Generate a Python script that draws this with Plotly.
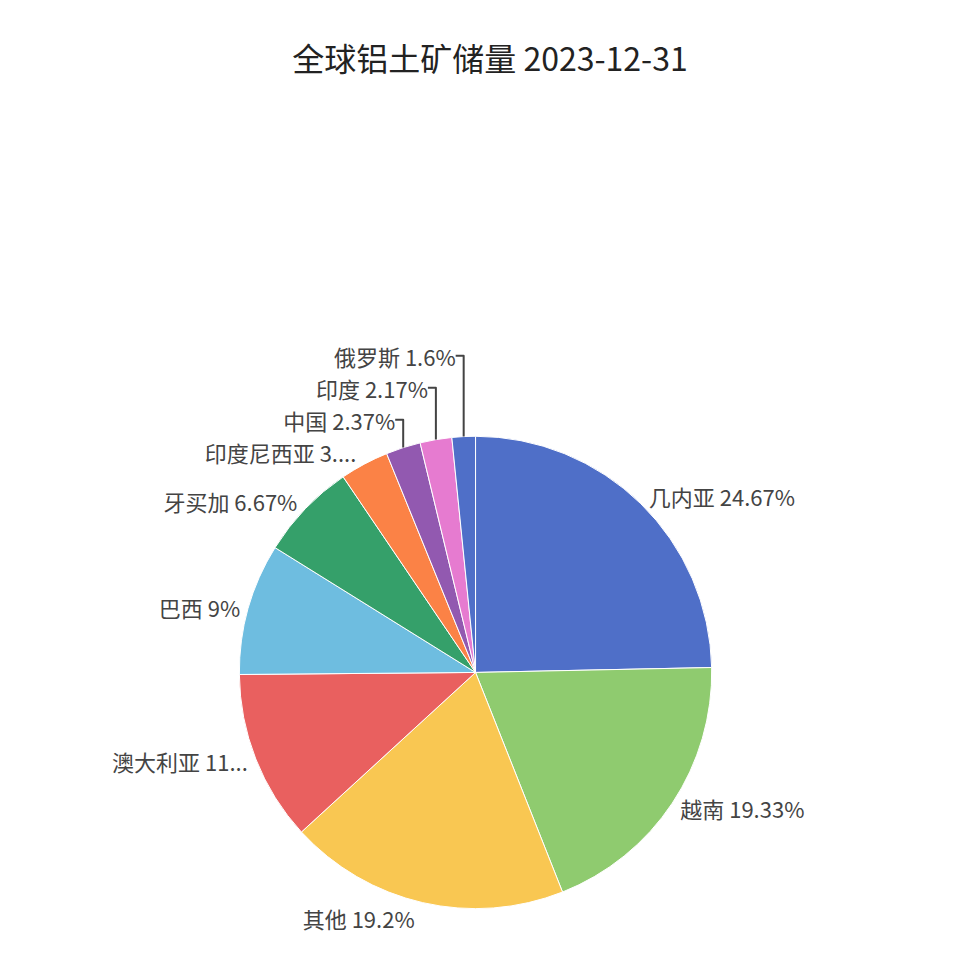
import plotly.graph_objects as go

# 全球铝土矿储量 2023-12-31 (share, %)
countries = ["几内亚", "越南", "其他", "澳大利亚", "巴西", "牙买加",
             "印度尼西亚", "中国", "印度", "俄罗斯"]
shares = [24.67, 19.33, 19.2, 11.67, 9, 6.67, 3.33, 2.37, 2.17, 1.6]
label_text = ["几内亚 24.67%", "越南 19.33%", "其他 19.2%", "澳大利亚 11...",
              "巴西 9%", "牙买加 6.67%", "印度尼西亚 3....", "中国 2.37%",
              "印度 2.17%", "俄罗斯 1.6%"]
colors = ["#4f6fc8", "#8fcb6f", "#f9c752", "#e9605f", "#6ebde0", "#35a06a",
          "#fb8246", "#9259b0", "#e67bd0", "#4f6fc8"]

fig = go.Figure(go.Pie(
    labels=countries,
    values=shares,
    text=label_text,
    textinfo="text",
    textposition="outside",
    sort=False,
    direction="clockwise",
    rotation=0,
    marker=dict(colors=colors, line=dict(color="white", width=1)),
    textfont=dict(size=22, color="#444"),
    domain=dict(x=[0.24, 0.73], y=[0.07, 0.56]),
    showlegend=False,
))

fig.update_layout(
    width=964, height=970,
    margin=dict(l=0, r=0, t=0, b=0),
    paper_bgcolor="white",
    font=dict(family="Noto Sans CJK SC"),
    title=dict(text="全球铝土矿储量 2023-12-31", x=0.5, y=0.958,
               xanchor="center", font=dict(size=32, color="#222")),
)

fig.write_html("out.html")
